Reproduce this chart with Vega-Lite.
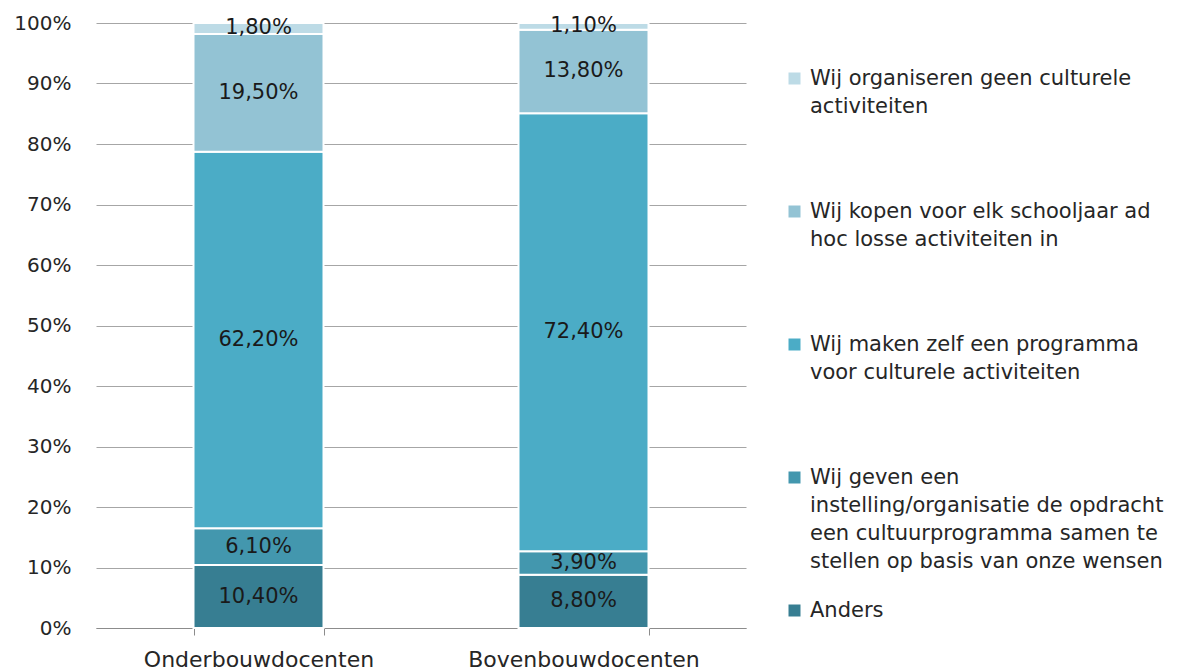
{
  "$schema": "https://vega.github.io/schema/vega-lite/v6.json",
  "width": 650,
  "height": 605,
  "padding": {"left": 13, "top": 13, "right": 0, "bottom": 0},
  "config": {
    "view": {"stroke": null},
    "font": "DejaVu Sans",
    "style": {"guide-label": {"lineHeight": 28}},
    "locale": {"number": {"decimal": ",", "thousands": ".", "grouping": [3], "currency": ["€ ", ""]}}
  },
  "data": {
    "values": [
      {"groep": "Onderbouwdocenten", "antwoord": "Anders", "k": 1, "aandeel": 0.104},
      {"groep": "Onderbouwdocenten", "antwoord": "Wij geven een instelling/organisatie de opdracht een cultuurprogramma samen te stellen op basis van onze wensen", "k": 2, "aandeel": 0.061},
      {"groep": "Onderbouwdocenten", "antwoord": "Wij maken zelf een programma voor culturele activiteiten", "k": 3, "aandeel": 0.622},
      {"groep": "Onderbouwdocenten", "antwoord": "Wij kopen voor elk schooljaar ad hoc losse activiteiten in", "k": 4, "aandeel": 0.195},
      {"groep": "Onderbouwdocenten", "antwoord": "Wij organiseren geen culturele activiteiten", "k": 5, "aandeel": 0.018},
      {"groep": "Bovenbouwdocenten", "antwoord": "Anders", "k": 1, "aandeel": 0.088},
      {"groep": "Bovenbouwdocenten", "antwoord": "Wij geven een instelling/organisatie de opdracht een cultuurprogramma samen te stellen op basis van onze wensen", "k": 2, "aandeel": 0.039},
      {"groep": "Bovenbouwdocenten", "antwoord": "Wij maken zelf een programma voor culturele activiteiten", "k": 3, "aandeel": 0.724},
      {"groep": "Bovenbouwdocenten", "antwoord": "Wij kopen voor elk schooljaar ad hoc losse activiteiten in", "k": 4, "aandeel": 0.138},
      {"groep": "Bovenbouwdocenten", "antwoord": "Wij organiseren geen culturele activiteiten", "k": 5, "aandeel": 0.011}
    ]
  },
  "encoding": {
    "x": {
      "field": "groep",
      "type": "nominal",
      "sort": null,
      "scale": {"paddingInner": 0.6, "paddingOuter": 0.3},
      "axis": {
        "title": null,
        "labelAngle": 0,
        "labelFontSize": 22,
        "labelColor": "#262626",
        "labelLimit": 400,
        "labelPadding": 14,
        "tickBand": "extent",
        "tickSize": 7,
        "tickColor": "#8C8C8C",
        "domainColor": "#8C8C8C",
        "grid": false
      }
    },
    "y": {
      "field": "aandeel",
      "type": "quantitative",
      "stack": "zero",
      "scale": {"domain": [0, 1], "nice": false},
      "axis": {
        "title": null,
        "format": "%",
        "values": [0, 0.1, 0.2, 0.3, 0.4, 0.5, 0.6, 0.7, 0.8, 0.9, 1],
        "labelFontSize": 20,
        "labelColor": "#262626",
        "labelPadding": 25,
        "ticks": false,
        "domain": false,
        "grid": true,
        "gridColor": "#A6A6A6",
        "gridWidth": 1
      }
    },
    "order": {"field": "k", "type": "quantitative"}
  },
  "layer": [
    {
      "mark": {"type": "bar", "stroke": "#ffffff", "strokeWidth": 2},
      "encoding": {
        "color": {
          "field": "antwoord",
          "type": "nominal",
          "scale": {
            "domain": [
              "Wij organiseren geen culturele activiteiten",
              "Wij kopen voor elk schooljaar ad hoc losse activiteiten in",
              "Wij maken zelf een programma voor culturele activiteiten",
              "Wij geven een instelling/organisatie de opdracht een cultuurprogramma samen te stellen op basis van onze wensen",
              "Anders"
            ],
            "range": ["#BDDBE6", "#93C3D4", "#4BACC6", "#4397AE", "#377E92"]
          },
          "legend": {
            "title": null,
            "orient": "none",
            "legendX": 688,
            "legendY": 45,
            "symbolType": "square",
            "symbolSize": 144,
            "symbolStrokeWidth": 0,
            "labelFontSize": 21,
            "labelColor": "#262626",
            "labelLimit": 600,
            "labelOffset": 5,
            "rowPadding": 27,
            "labelExpr": "indexof(datum.value, 'organiseren') >= 0 ? ['Wij organiseren geen culturele', 'activiteiten', '', ''] : indexof(datum.value, 'kopen') >= 0 ? ['Wij kopen voor elk schooljaar ad', 'hoc losse activiteiten in', '', ''] : indexof(datum.value, 'maken') >= 0 ? ['Wij maken zelf een programma', 'voor culturele activiteiten', '', ''] : indexof(datum.value, 'geven') >= 0 ? ['Wij geven een', 'instelling/organisatie de opdracht', 'een cultuurprogramma samen te', 'stellen op basis van onze wensen'] : datum.value"
          }
        }
      }
    },
    {
      "mark": {"type": "text", "fontSize": 21, "color": "#1A1A1A"},
      "encoding": {
        "y": {"field": "aandeel", "type": "quantitative", "stack": "zero", "bandPosition": 0.5},
        "text": {"field": "aandeel", "type": "quantitative", "format": ".2%"}
      }
    }
  ]
}
